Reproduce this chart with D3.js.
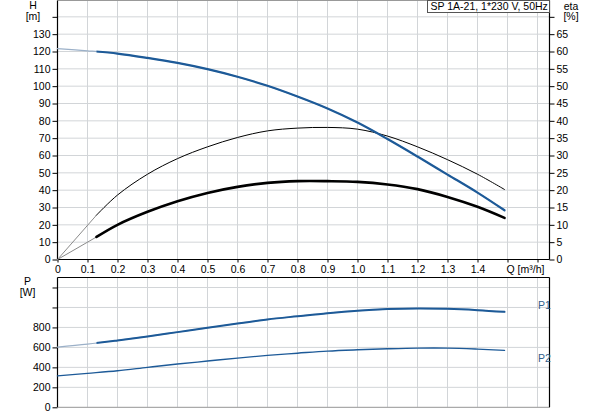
<!DOCTYPE html>
<html>
<head>
<meta charset="utf-8">
<script src="https://cdn.jsdelivr.net/npm/d3@7"></script>
<style>
    body { margin: 0; background: #fff; }
    svg { display: block; font-family: "Liberation Sans", Arial, sans-serif; font-size: 10.5px; }
</style>
</head>
<body>
<svg id="chart" width="593" height="415"></svg>
<script>
const chartTitle = "SP 1A-21, 1*230 V, 50Hz";

// flow points used for head and power curves [m³/h]
const flowQ = [0, 0.1, 0.2, 0.3, 0.4, 0.5, 0.6, 0.7, 0.8, 0.9, 1.0, 1.1, 1.2, 1.3, 1.4, 1.49];
const headH = [121.7, 120.4, 118.8, 116.3, 113.4, 109.8, 105.4, 100.2, 94.0, 87.1, 79.0, 69.5, 59.4, 49.0, 38.6, 28.4];
const powerP1 = [603, 633, 670, 710, 753, 796, 840, 880, 912, 943, 968, 984, 990, 986, 973, 956];
const powerP2 = [315, 340, 366, 400, 433, 463, 493, 520, 542, 563, 576, 586, 593, 593, 583, 570];

// efficiency curves; first segment (0 -> 0.13) is drawn as a grey straight line
const etaQ = [0, 0.13, 0.2, 0.3, 0.4, 0.5, 0.6, 0.7, 0.8, 0.9, 1.0, 1.1, 1.2, 1.3, 1.4, 1.49];
const etaPump = [0, 12.8, 18.6, 24.6, 29.1, 32.5, 35.2, 37.1, 37.9, 38.1, 37.6, 35.6, 32.5, 28.8, 24.6, 20.2];
const etaTotal = [0, 6.5, 10.0, 13.75, 16.8, 19.2, 20.95, 22.1, 22.6, 22.6, 22.4, 21.65, 20.3, 18.05, 15.2, 12.0];

// ticks and labels
const qTicks = [0, 0.1, 0.2, 0.3, 0.4, 0.5, 0.6, 0.7, 0.8, 0.9, 1.0, 1.1, 1.2, 1.3, 1.4, 1.5, 1.6];
const qTickLabels = ["0", "0.1", "0.2", "0.3", "0.4", "0.5", "0.6", "0.7", "0.8", "0.9", "1.0", "1.1", "1.2", "1.3", "1.4", "", ""];
const hTicks = [0, 10, 20, 30, 40, 50, 60, 70, 80, 90, 100, 110, 120, 130, 140];
const hTickLabels = ["0", "10", "20", "30", "40", "50", "60", "70", "80", "90", "100", "110", "120", "130", ""];
const etaTicks = [0, 5, 10, 15, 20, 25, 30, 35, 40, 45, 50, 55, 60, 65, 70];
const etaTickLabels = ["0", "5", "10", "15", "20", "25", "30", "35", "40", "45", "50", "55", "60", "65", ""];
const pTicks = [0, 200, 400, 600, 800, 1000, 1200];
const pTickLabels = ["0", "200", "400", "600", "800", "", ""];

// ---- Layout ----
const plot = { left: 57.5, right: 549.5, top: 0.5, bottom: 259.5, pTop: 277.5, pBottom: 407.3 };
const dutyStartQ = 0.13;
const blue = "#1d5a98";
const lightBlue = "#9bb0c8";
const gridColor = "#d2d5d8";

const svg = d3.select("#chart");

const x = d3.scaleLinear().domain([0, 1.64]).range([plot.left, plot.right]);
const yH = d3.scaleLinear().domain([0, 150]).range([plot.bottom, plot.bottom - 150 * 1.7333]);
const yEta = d3.scaleLinear().domain([0, 75]).range([plot.bottom, plot.bottom - 150 * 1.7333]);
const yP = d3.scaleLinear().domain([0, 1300]).range([plot.pBottom, plot.pTop]);

// clip for the "duty" part of the curves (drawn thick)
svg.append("clipPath").attr("id", "duty")
    .append("rect")
    .attr("x", x(dutyStartQ))
    .attr("y", 0)
    .attr("width", plot.right - x(dutyStartQ))
    .attr("height", 415);

// ---- Grid ----
const grid = svg.append("g").attr("stroke", gridColor).attr("stroke-width", 1);
qTicks.filter(d => d > 0).forEach(d => {
    grid.append("line").attr("x1", x(d)).attr("x2", x(d)).attr("y1", plot.top).attr("y2", plot.bottom);
    grid.append("line").attr("x1", x(d)).attr("x2", x(d)).attr("y1", plot.pTop).attr("y2", plot.pBottom);
});
hTicks.filter(d => d > 0).forEach(d => {
    grid.append("line").attr("x1", plot.left).attr("x2", plot.right).attr("y1", yH(d)).attr("y2", yH(d));
});
pTicks.filter(d => d > 0).forEach(d => {
    grid.append("line").attr("x1", plot.left).attr("x2", plot.right).attr("y1", yP(d)).attr("y2", yP(d));
});

// ---- Axes ----
function styleAxis(g) {
    g.attr("font-family", null).attr("font-size", null);
    g.select(".domain").remove();
    g.selectAll(".tick line").attr("stroke", "#000");
    g.selectAll(".tick text").attr("fill", "#000");
}

svg.append("g")
    .attr("transform", `translate(${plot.left},0)`)
    .call(d3.axisLeft(yH).tickValues(hTicks).tickSize(5).tickPadding(2)
        .tickFormat((d, i) => hTickLabels[i]))
    .call(styleAxis);

svg.append("g")
    .attr("transform", `translate(${plot.right},0)`)
    .call(d3.axisRight(yEta).tickValues(etaTicks).tickSize(5).tickPadding(2)
        .tickFormat((d, i) => etaTickLabels[i]))
    .call(styleAxis);

svg.append("g")
    .attr("transform", `translate(0,${plot.bottom})`)
    .call(d3.axisBottom(x).tickValues(qTicks).tickSize(3).tickPadding(3)
        .tickFormat((d, i) => qTickLabels[i]))
    .call(styleAxis);

svg.append("g")
    .attr("transform", `translate(${plot.left},0)`)
    .call(d3.axisLeft(yP).tickValues(pTicks).tickSize(5).tickPadding(2)
        .tickFormat((d, i) => pTickLabels[i]))
    .call(styleAxis);

// ---- Frames ----
const frame = svg.append("g").attr("stroke-width", 1.2);
frame.append("line").attr("x1", plot.left).attr("x2", plot.right).attr("y1", plot.top).attr("y2", plot.top).attr("stroke", "#999");
frame.append("line").attr("x1", plot.left).attr("x2", plot.right).attr("y1", plot.bottom).attr("y2", plot.bottom).attr("stroke", "#000");
frame.append("line").attr("x1", plot.left).attr("x2", plot.left).attr("y1", plot.top).attr("y2", plot.bottom).attr("stroke", "#000");
frame.append("line").attr("x1", plot.right).attr("x2", plot.right).attr("y1", plot.top).attr("y2", plot.bottom).attr("stroke", "#000");
frame.append("line").attr("x1", plot.left).attr("x2", plot.right).attr("y1", plot.pTop).attr("y2", plot.pTop).attr("stroke", "#000");
frame.append("line").attr("x1", plot.left).attr("x2", plot.right).attr("y1", plot.pBottom).attr("y2", plot.pBottom).attr("stroke", "#aaa");
frame.append("line").attr("x1", plot.left).attr("x2", plot.left).attr("y1", plot.pTop).attr("y2", plot.pBottom).attr("stroke", "#000");
frame.append("line").attr("x1", plot.right).attr("x2", plot.right).attr("y1", plot.pTop).attr("y2", plot.pBottom).attr("stroke", "#000");

// ---- Curves ----
const curves = svg.append("g").attr("fill", "none").attr("stroke-linecap", "round");

// efficiency: grey start segment + black curve
function drawEta(values, width) {
    const pts = etaQ.map((q, i) => [q, values[i]]);
    const straight = d3.line().x(d => x(d[0])).y(d => yEta(d[1]));
    const smooth = d3.line().x(d => x(d[0])).y(d => yEta(d[1])).curve(d3.curveCatmullRom.alpha(0.5));
    curves.append("path").attr("d", straight(pts.slice(0, 2)))
        .attr("stroke", "#8a8a8a").attr("stroke-width", 1);
    curves.append("path").attr("d", smooth(pts.slice(1)))
        .attr("stroke", "#000").attr("stroke-width", width);
}
drawEta(etaPump, 1);
drawEta(etaTotal, 2.6);

// head / power: light thin line everywhere, thick line in the duty range
function drawFlowCurve(values, yScale, width, thinStart) {
    const line = d3.line().x((d, i) => x(flowQ[i])).y(d => yScale(d)).curve(d3.curveCatmullRom.alpha(0.5));
    if (thinStart) {
        curves.append("path").attr("d", line(values))
            .attr("stroke", lightBlue).attr("stroke-width", 1.2);
        curves.append("path").attr("d", line(values))
            .attr("clip-path", "url(#duty)")
            .attr("stroke", blue).attr("stroke-width", width);
    } else {
        curves.append("path").attr("d", line(values))
            .attr("stroke", blue).attr("stroke-width", width);
    }
}
drawFlowCurve(headH, yH, 2.2, true);
drawFlowCurve(powerP1, yP, 2, true);
drawFlowCurve(powerP2, yP, 1.4, false);

// ---- Labels ----
const labels = svg.append("g").attr("fill", "#000");
labels.append("text").attr("x", 33).attr("y", 9).attr("text-anchor", "middle").text("H");
labels.append("text").attr("x", 33).attr("y", 20).attr("text-anchor", "middle").text("[m]");
labels.append("text").attr("x", 571).attr("y", 9.5).attr("text-anchor", "middle").text("eta");
labels.append("text").attr("x", 571).attr("y", 20).attr("text-anchor", "middle").text("[%]");
labels.append("text").attr("x", 27.5).attr("y", 285).attr("text-anchor", "middle").text("P");
labels.append("text").attr("x", 27.5).attr("y", 296).attr("text-anchor", "middle").text("[W]");
labels.append("text").attr("x", x(1.5) - 1).attr("y", 273).text("Q [m³/h]");

labels.append("text").attr("x", 538).attr("y", yP(1000) + 2).attr("fill", "#34608c").text("P1");
labels.append("text").attr("x", 538).attr("y", yP(480) + 3).attr("fill", "#34608c").text("P2");

// title box
const titleBox = svg.append("g");
titleBox.append("rect")
    .attr("x", 427.5).attr("y", 0.5).attr("width", plot.right - 427.5).attr("height", 12)
    .attr("fill", "#fff").attr("stroke", "#555").attr("stroke-width", 1);
titleBox.append("text").attr("x", 430.5).attr("y", 10).attr("fill", "#000").text(chartTitle);
</script>
</body>
</html>
